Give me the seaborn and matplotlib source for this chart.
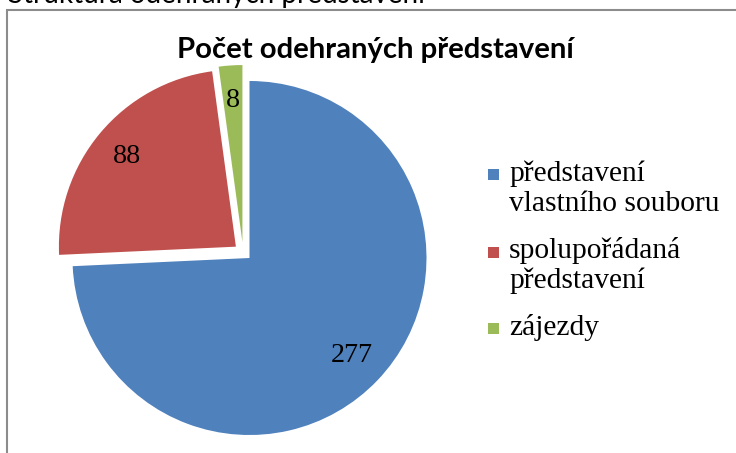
import matplotlib
matplotlib.use("Agg")
import matplotlib.pyplot as plt
from matplotlib.patches import Rectangle
import seaborn as sns

# ---- data ----
categories = ["představení\nvlastního souboru", "spolupořádaná\npředstavení", "zájezdy"]
values = [277, 88, 8]
colors = ["#4F81BD", "#C0504D", "#9BBB59"]
explode = [0.0, 0.1, 0.1]
title = "Počet odehraných představení"
page_text = "Struktura odehraných představení"

sns.set_theme(style="white")
plt.rcParams["font.family"] = ["Liberation Serif", "DejaVu Serif"]

W, H = 736, 453
fig = plt.figure(figsize=(W / 100, H / 100), dpi=100)
fig.patch.set_facecolor("white")

def fx(px):
    return px / W

def fy(py_top):
    return 1 - py_top / H

# pie axes: centre (249.5, 258) px, radius 177 px, limits +-1.1
R = 177.0
half = 1.1 * R
cx, cy = 249.5, 258.0
ax = fig.add_axes([fx(cx - half), fy(cy + half), 2 * half / W, 2 * half / H])
wedges, texts, autotexts = ax.pie(
    values, colors=colors, explode=explode, startangle=90, counterclock=False,
    autopct=lambda p: f"{p * sum(values) / 100:.0f}", pctdistance=0.8,
    wedgeprops=dict(linewidth=0), textprops=dict(color="black"))
ax.set_xlim(-1.1, 1.1)
ax.set_ylim(-1.1, 1.1)
ax.set_aspect("equal")
ax.axis("off")
for w in wedges:
    w.set_clip_on(False)

# Excel shifts the small slice slightly differently
old = wedges[2].center
new = (-0.04, 0.09)
wedges[2].set_center(new)
x, y = autotexts[2].get_position()
autotexts[2].set_position((x + new[0] - old[0], y + new[1] - old[1]))

# frame of the chart (continues beyond right & bottom edge)
fig.patches.append(Rectangle((fx(7), fy(H + 10)), fx(W + 20), (H) / H,
                             transform=fig.transFigure, fill=False,
                             edgecolor="#8c8c8c", linewidth=1.5, zorder=0))

# page text cut off at top
pt = fig.text(fx(8), fy(3), page_text, fontsize=15, family=["Lato", "DejaVu Sans"],
              ha="left", va="baseline", color="black")

# title
tt = fig.text(fx(375), fy(58), title, fontsize=20, family=["Lato", "DejaVu Sans"],
              fontweight="bold", ha="center", va="baseline", color="black")

# legend (manual)
leg_x_box = 488
leg_x_text = 509
box_centers = [175, 252, 328]
line_baselines = [[181, 211], [258, 288], [335]]
legend_texts = []
for cat, col, bc, bls in zip(categories, colors, box_centers, line_baselines):
    fig.patches.append(Rectangle((fx(leg_x_box), fy(bc + 5.5)), fx(11), 11 / H,
                                 transform=fig.transFigure, facecolor=col,
                                 edgecolor="none"))
    for line, bl in zip(cat.split("\n"), bls):
        t = fig.text(fx(leg_x_text), fy(bl), line, fontsize=16, ha="left",
                     va="baseline", color="black")
        legend_texts.append(t)

for t in autotexts:
    t.set_fontsize(16)

# fit font sizes to measured widths
fig.canvas.draw()
r = fig.canvas.get_renderer()

def fit(t, target):
    w = t.get_window_extent(r).width
    t.set_fontsize(t.get_fontsize() * target / w)

fit(pt, 417)
fit(tt, 397)
ref = legend_texts[2]  # spolupořádaná
s = ref.get_fontsize() * 172 / ref.get_window_extent(r).width
for t in legend_texts:
    t.set_fontsize(s)
w277 = autotexts[0].get_window_extent(r).width
s2 = autotexts[0].get_fontsize() * 42 / w277
for t in autotexts:
    t.set_fontsize(s2)

fig.savefig("out.png", dpi=100)
